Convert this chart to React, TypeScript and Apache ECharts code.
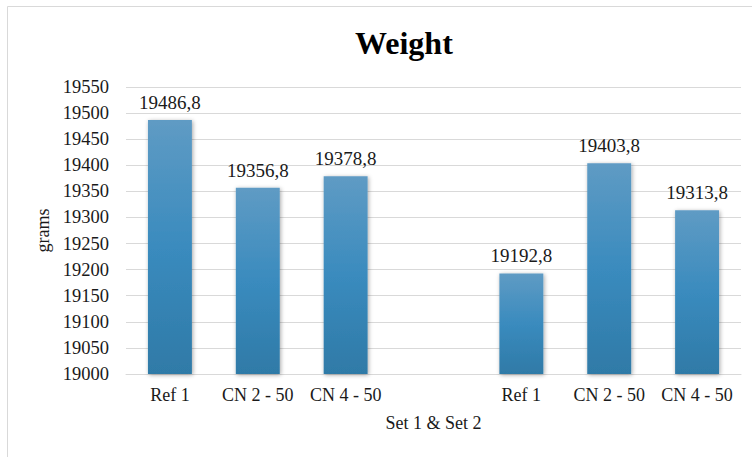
import React, { useEffect, useRef } from "react";
import * as echarts from "echarts";

// Two sets of three samples, separated by an empty slot
const categories = ["Ref 1", "CN 2 - 50", "CN 4 - 50", "", "Ref 1", "CN 2 - 50", "CN 4 - 50"];
const weights: (number | null)[] = [19486.8, 19356.8, 19378.8, null, 19192.8, 19403.8, 19313.8];

const yMin = 19000;
const yMax = 19550;
const yStep = 50;

const FONT = "'Liberation Serif', 'Times New Roman', serif";

export default function App() {
  const ref = useRef<HTMLDivElement>(null);

  useEffect(() => {
    if (!ref.current) return;
    const chart = echarts.init(ref.current, null, { renderer: "svg" });
    chart.setOption({
      animation: false,
      backgroundColor: "#ffffff",
      textStyle: { fontFamily: FONT },
      title: {
        text: "Weight",
        left: 350,
        top: 22,
        textStyle: { fontFamily: FONT, fontSize: 32, fontWeight: "bold", color: "#000000" },
      },
      graphic: [
        {
          type: "rect",
          shape: { x: 7.5, y: 6.5, width: 800, height: 500 },
          style: { fill: "none", stroke: "#d9d9d9", lineWidth: 1 },
          silent: true,
        },
      ],
      grid: { left: 126, right: 11, top: 87, bottom: 83 },
      xAxis: {
        type: "category",
        data: categories,
        name: "Set 1 & Set 2",
        nameLocation: "middle",
        nameGap: 40,
        nameTextStyle: { fontFamily: FONT, fontSize: 18, color: "#1a1a1a" },
        axisLine: { lineStyle: { color: "#d9d9d9", width: 1 } },
        axisTick: { show: false },
        axisLabel: { fontFamily: FONT, fontSize: 18, color: "#1a1a1a", margin: 12, interval: 0 },
      },
      yAxis: {
        type: "value",
        min: yMin,
        max: yMax,
        interval: yStep,
        name: "grams",
        nameLocation: "middle",
        nameGap: 74,
        nameRotate: 90,
        nameTextStyle: { fontFamily: FONT, fontSize: 18, color: "#1a1a1a" },
        axisLine: { show: false },
        axisTick: { show: false },
        axisLabel: {
          fontFamily: FONT,
          fontSize: 18.5,
          color: "#1a1a1a",
          margin: 17,
          formatter: (v: number) => String(v),
        },
        splitLine: { lineStyle: { color: "#d9d9d9", width: 1 } },
      },
      series: [
        {
          type: "bar",
          data: weights,
          barWidth: "50%",
          itemStyle: {
            color: new echarts.graphic.LinearGradient(0, 0, 0, 1, [
              { offset: 0, color: "#5f9bc4" },
              { offset: 0.5, color: "#3a8bbe" },
              { offset: 1, color: "#2f7aa7" },
            ]),
            shadowColor: "rgba(0,0,0,0.35)",
            shadowBlur: 4,
            shadowOffsetX: 1,
            shadowOffsetY: 1,
          },
          label: {
            show: true,
            position: "top",
            distance: 8,
            fontFamily: FONT,
            fontSize: 19,
            color: "#1a1a1a",
            formatter: (p: any) => String(p.value).replace(".", ","),
          },
        },
      ],
    });
    return () => chart.dispose();
  }, []);

  return (
    <div
      ref={ref}
      style={{ position: "fixed", left: 0, top: 0, width: 752, height: 457 }}
    />
  );
}
